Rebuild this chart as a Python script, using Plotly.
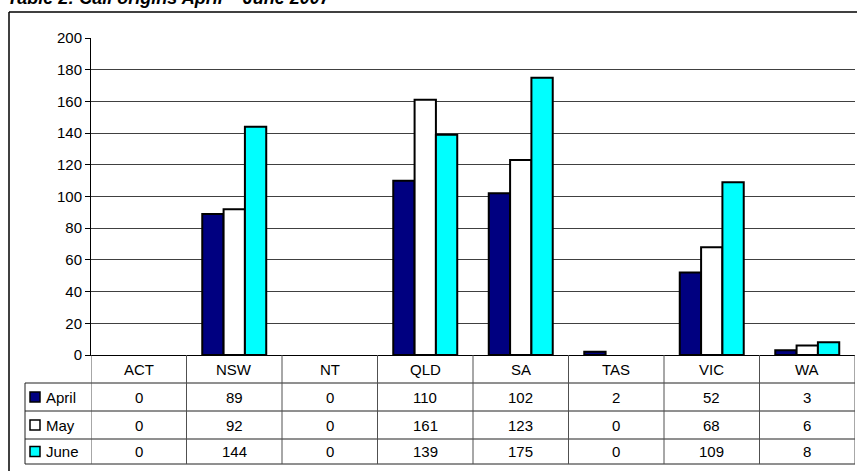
import plotly.graph_objects as go

categories = ["ACT", "NSW", "NT", "QLD", "SA", "TAS", "VIC", "WA"]
april = [0, 89, 0, 110, 102, 2, 52, 3]
may = [0, 92, 0, 161, 123, 0, 68, 6]
june = [0, 144, 0, 139, 175, 0, 109, 8]
series_names = ["April", "May", "June"]
series_values = [april, may, june]
series_colors = ["#000080", "#FFFFFF", "#00FFFF"]
title_text = "Table 2: Call origins April \u2013 June 2007"

W, H = 857, 471
L, R, T, B = 91, 2, 38, 116
PW = W - L - R
PH = H - T - B
FONT = "Arial, Liberation Sans, sans-serif"


def px_x(p):
    return (p - L) / PW


def px_y(p):
    return (H - B - p) / PH


fig = go.Figure()
for name, vals, col in zip(series_names, series_values, series_colors):
    fig.add_trace(go.Bar(
        x=categories, y=[v if v else None for v in vals], name=name,
        marker=dict(color=col, line=dict(color="#000000", width=2)),
        showlegend=False,
    ))

shapes = []
annotations = []

# outer frame (left and top edges; the rest runs off the picture)
shapes.append(dict(type="line", xref="paper", yref="paper",
                   x0=px_x(9), x1=px_x(9), y0=px_y(471), y1=px_y(12),
                   line=dict(color="#000000", width=1.5), layer="below"))
shapes.append(dict(type="line", xref="paper", yref="paper",
                   x0=px_x(9), x1=px_x(857), y0=px_y(12), y1=px_y(12),
                   line=dict(color="#000000", width=1.5), layer="below"))

# table geometry (pixel rows)
row_edges = [355, 383, 411, 439, 464]
n = len(categories)
for yp in row_edges[1:]:
    shapes.append(dict(type="line", xref="paper", yref="paper",
                       x0=px_x(25), x1=1, y0=px_y(yp), y1=px_y(yp),
                       line=dict(color="#202020", width=1)))
for k in range(n + 1):
    shapes.append(dict(type="line", xref="x", yref="paper",
                       x0=k - 0.5, x1=k - 0.5, y0=px_y(355), y1=px_y(464),
                       line=dict(color="#505050", width=1)))
shapes.append(dict(type="line", xref="paper", yref="paper",
                   x0=px_x(25), x1=px_x(25), y0=px_y(383), y1=px_y(464),
                   line=dict(color="#202020", width=1)))

for c in categories:
    annotations.append(dict(x=c, xref="x", xanchor="center", yref="paper",
                            y=px_y((row_edges[0] + row_edges[1]) / 2),
                            yanchor="middle", text=c, showarrow=False,
                            font=dict(family=FONT, size=15, color="#000")))

for r, (name, vals, col) in enumerate(zip(series_names, series_values, series_colors)):
    yc = (row_edges[r + 1] + row_edges[r + 2]) / 2
    for c, v in zip(categories, vals):
        annotations.append(dict(x=c, xref="x", xanchor="center", yref="paper",
                                y=px_y(yc), yanchor="middle",
                                text=str(v), showarrow=False,
                                font=dict(family=FONT, size=15, color="#000")))
    shapes.append(dict(type="rect", xref="paper", yref="paper",
                       x0=px_x(30), x1=px_x(40), y0=px_y(yc + 5), y1=px_y(yc - 5),
                       fillcolor=col, line=dict(color="#000", width=1.5)))
    annotations.append(dict(x=px_x(44), xref="paper", xanchor="left",
                            yref="paper", y=px_y(yc), yanchor="middle",
                            text=name, showarrow=False,
                            font=dict(family=FONT, size=15, color="#000")))

annotations.append(dict(x=px_x(5), xref="paper", xanchor="left",
                        yref="paper", y=px_y(10), yanchor="bottom",
                        text="<b><i>" + title_text + "</i></b>",
                        showarrow=False,
                        font=dict(family=FONT, size=18, color="#000")))

fig.update_layout(
    width=W, height=H,
    margin=dict(l=L, r=R, t=T, b=B),
    paper_bgcolor="#FFFFFF", plot_bgcolor="#FFFFFF",
    barmode="group", bargap=0.33, bargroupgap=0,
    font=dict(family=FONT, size=15, color="#000"),
    shapes=shapes, annotations=annotations,
    xaxis=dict(type="category", showticklabels=False, showgrid=False,
               showline=True, linecolor="#000", linewidth=1,
               ticks="", range=[-0.5, n - 0.5], fixedrange=True),
    yaxis=dict(range=[0, 200], dtick=20, showgrid=True,
               gridcolor="#404040", gridwidth=1,
               showline=True, linecolor="#000", linewidth=1,
               ticks="outside", ticklen=5, tickcolor="#000",
               tickfont=dict(family=FONT, size=15, color="#000"),
               zeroline=False, fixedrange=True),
)

fig.write_html("out.html")
